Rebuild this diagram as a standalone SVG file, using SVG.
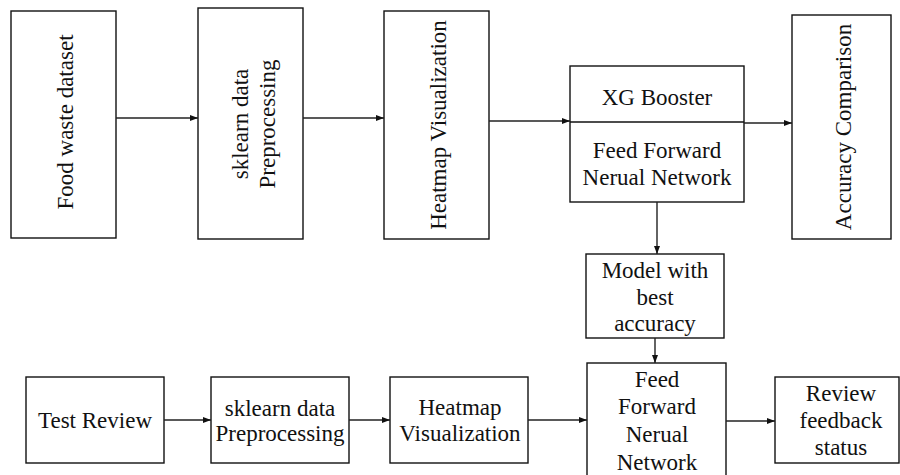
<svg xmlns="http://www.w3.org/2000/svg" width="900" height="475" viewBox="0 0 900 475">
<defs>
<marker id="ah" markerWidth="8" markerHeight="6" refX="8" refY="3" orient="auto" markerUnits="userSpaceOnUse">
<path d="M0,0 L8,3 L0,6 Z" fill="#111"/>
</marker>
<style>
rect{fill:#fff;stroke:#111;stroke-width:1.4}
text{font-size:23px;fill:#111;text-anchor:middle}
.c{stroke:#222;stroke-width:1.4;fill:none;marker-end:url(#ah)}
.d{stroke:#111;stroke-width:1.4}
</style>
</defs>
<rect x="0" y="0" width="900" height="475" style="fill:#fff;stroke:none"/>
<g font-family="Liberation Serif, Tinos, DejaVu Serif, serif">
<g id="food">
<rect x="11" y="11" width="105" height="227"/>
<text transform="translate(73,122) rotate(-90)">Food waste dataset</text>
</g>
<g id="sk1">
<rect x="198" y="8" width="105" height="231"/>
<text transform="translate(248,124) rotate(-90)">sklearn data</text>
<text transform="translate(275,124) rotate(-90)">Preprocessing</text>
</g>
<g id="heat1">
<rect x="384" y="11" width="105" height="228"/>
<text transform="translate(446,125) rotate(-90)">Heatmap Visualization</text>
</g>
<g id="models">
<rect x="570" y="66" width="174" height="136"/>
<line class="d" x1="570" y1="122" x2="744" y2="122"/>
<text x="657" y="105">XG Booster</text>
<text x="657" y="158">Feed Forward</text>
<text x="657" y="185">Nerual Network</text>
</g>
<g id="acc">
<rect x="792" y="15" width="99" height="224"/>
<text transform="translate(851,127) rotate(-90)">Accuracy Comparison</text>
</g>
<g id="best">
<rect x="586" y="254" width="138" height="84"/>
<text x="655" y="278">Model with</text>
<text x="655" y="305">best</text>
<text x="655" y="331">accuracy</text>
</g>
<g id="test">
<rect x="26" y="377" width="138" height="86"/>
<text x="95" y="428">Test Review</text>
</g>
<g id="sk2">
<rect x="211" y="377" width="138" height="86"/>
<text x="280" y="416">sklearn data</text>
<text x="280" y="441">Preprocessing</text>
</g>
<g id="heat2">
<rect x="390" y="377" width="138" height="86"/>
<text x="460" y="415">Heatmap</text>
<text x="460" y="441">Visualization</text>
</g>
<g id="ffnn">
<rect x="587" y="363" width="139" height="120"/>
<text x="657" y="387">Feed</text>
<text x="657" y="414">Forward</text>
<text x="657" y="442">Nerual</text>
<text x="657" y="470">Network</text>
</g>
<g id="review">
<rect x="775" y="377" width="124" height="86"/>
<text x="841" y="401">Review</text>
<text x="841" y="428">feedback</text>
<text x="841" y="455">status</text>
</g>
</g>
<g id="connectors">
<line class="c" x1="116" y1="118" x2="198" y2="118"/>
<line class="c" x1="303" y1="118" x2="384" y2="118"/>
<line class="c" x1="489" y1="121" x2="570" y2="121"/>
<line class="c" x1="744" y1="123" x2="792" y2="123"/>
<line class="c" x1="657" y1="202" x2="657" y2="254"/>
<line class="c" x1="655" y1="338" x2="655" y2="363"/>
<line class="c" x1="164" y1="420" x2="211" y2="420"/>
<line class="c" x1="349" y1="420" x2="390" y2="420"/>
<line class="c" x1="528" y1="420" x2="587" y2="420"/>
<line class="c" x1="726" y1="421" x2="775" y2="421"/>
</g>
</svg>
